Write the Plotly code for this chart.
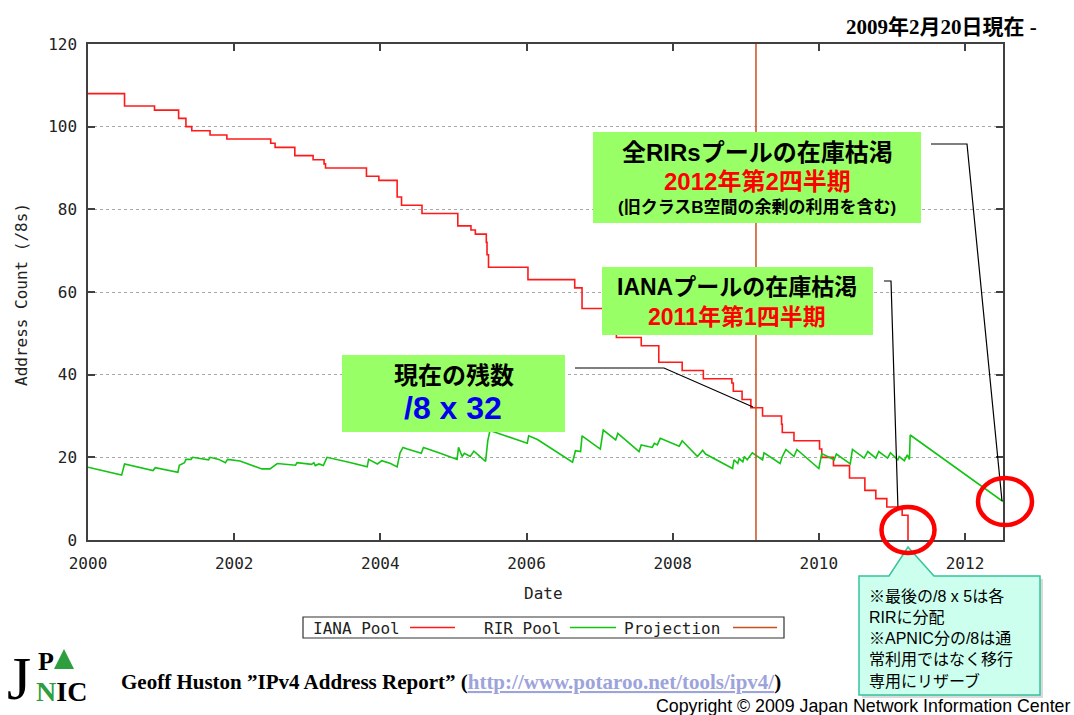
import plotly.graph_objects as go

# ---------------- data ----------------
iana_dates = [2000.00, 2000.50, 2000.91, 2001.24, 2001.34, 2001.42, 2001.67, 2001.90, 2002.50, 2002.56,
              2002.83, 2003.08, 2003.23, 2003.25, 2003.81, 2003.98, 2004.23, 2004.29, 2004.57, 2005.06,
              2005.24, 2005.30, 2005.45, 2005.46, 2005.48, 2006.02, 2006.66, 2006.76, 2007.10, 2007.23,
              2007.57, 2007.81, 2008.13, 2008.42, 2008.81, 2008.83, 2008.95, 2009.07, 2009.23, 2009.49,
              2009.50, 2009.66, 2010.01, 2010.04, 2010.20, 2010.42, 2010.63, 2010.78, 2010.93, 2011.14,
              2011.22]
iana_values = [108, 105, 104, 102, 100, 99, 98, 97, 96, 95,
               93, 92, 91, 90, 88, 87, 83, 81, 79, 76,
               75, 74, 72, 69, 66, 63, 61, 56, 52, 49,
               47, 43, 41, 39, 38, 36, 34, 32, 30, 28,
               26, 24, 22, 20, 18, 15, 12, 10, 8, 6,
               0]

rir_dates = [2000.00, 2000.46, 2000.50, 2000.89, 2000.92, 2001.23, 2001.25, 2001.32, 2001.34, 2001.41,
             2001.43, 2001.65, 2001.67, 2001.79, 2001.88, 2001.91, 2002.08, 2002.38, 2002.49, 2002.59,
             2002.84, 2002.86, 2003.06, 2003.09, 2003.11, 2003.16, 2003.22, 2003.27, 2003.57, 2003.82,
             2003.84, 2003.96, 2004.02, 2004.14, 2004.23, 2004.27, 2004.31, 2004.37, 2004.56, 2004.59,
             2004.82, 2005.05, 2005.07, 2005.12, 2005.15, 2005.23, 2005.28, 2005.44, 2005.47, 2005.50,
             2006.01, 2006.03, 2006.15, 2006.63, 2006.67, 2006.74, 2006.76, 2007.01, 2007.05, 2007.22,
             2007.25, 2007.54, 2007.57, 2007.72, 2007.75, 2007.79, 2007.83, 2008.09, 2008.13, 2008.27,
             2008.34, 2008.41, 2008.45, 2008.82, 2008.84, 2008.89, 2008.91, 2008.96, 2008.98, 2009.02,
             2009.09, 2009.23, 2009.25, 2009.47, 2009.50, 2009.55, 2009.66, 2009.70, 2010.00, 2010.04,
             2010.21, 2010.24, 2010.43, 2010.46, 2010.62, 2010.67, 2010.78, 2010.82, 2010.94, 2010.98,
             2011.08, 2011.10, 2011.17, 2011.21, 2011.24, 2011.25, 2012.52]
rir_values = [17.6, 15.7, 18.4, 16.8, 17.5, 16.4, 18.1, 18.7, 19.5, 19.5,
              20.0, 19.4, 20.0, 19.5, 18.7, 19.5, 19.1, 17.2, 17.2, 18.5,
              18.1, 18.7, 18.3, 18.7, 18.0, 18.4, 18.0, 20.0, 18.8, 17.7,
              19.5, 18.4, 19.2, 18.5, 17.7, 21.1, 22.4, 22.0, 21.0, 22.4,
              21.0, 19.5, 22.4, 20.2, 21.0, 20.2, 21.5, 19.0, 24.0, 26.5,
              23.4, 25.2, 24.3, 18.8, 21.6, 21.4, 25.2, 22.0, 26.6, 24.2,
              25.8, 21.4, 23.0, 22.4, 23.4, 23.0, 24.6, 22.7, 24.0, 21.4,
              20.2, 21.7, 20.8, 17.3, 19.4, 18.5, 19.7, 18.9, 20.2, 19.4,
              21.1, 19.4, 21.1, 18.5, 20.2, 21.9, 20.2, 21.9, 17.3, 20.9,
              19.4, 20.8, 18.4, 21.9, 19.8, 21.4, 19.8, 21.4, 19.8, 21.1,
              19.4, 20.2, 19.2, 20.6, 19.5, 25.4, 9.3]

projection_dates = [2009.14, 2009.14]
projection_values = [0, 120]

x_ticks = [2000, 2002, 2004, 2006, 2008, 2010, 2012]
y_ticks = [0, 20, 40, 60, 80, 100, 120]

series_names = ["IANA Pool", "RIR Pool", "Projection"]
series_colors = ["#ff1a1a", "#14c414", "#c8501e"]

# ---------------- layout helpers (pixel -> paper) ----------------
WIDTH, HEIGHT = 1074, 715
L, T, W, H = 88, 44, 915, 496


def px(x):
    return (x - L) / W


def py(y):
    return (T + H - y) / H


MONO = "DejaVu Sans Mono"
JP = "Liberation Sans, Noto Sans CJK JP"

fig = go.Figure()
fig.add_trace(go.Scatter(x=iana_dates, y=iana_values, mode="lines", line_shape="hv",
                         name=series_names[0], line=dict(color=series_colors[0], width=1.6)))
fig.add_trace(go.Scatter(x=rir_dates, y=rir_values, mode="lines",
                         name=series_names[1], line=dict(color=series_colors[1], width=1.6)))
fig.add_trace(go.Scatter(x=projection_dates, y=projection_values, mode="lines",
                         name=series_names[2], line=dict(color=series_colors[2], width=1.5)))

shapes = []
annotations = []


def rect(x0, y0, x1, y1, fill, line_color=None, lw=0):
    shapes.append(dict(type="rect", xref="paper", yref="paper", x0=px(x0), x1=px(x1),
                       y0=py(y1), y1=py(y0), fillcolor=fill,
                       line=dict(color=line_color or fill, width=lw), layer="above"))


def polyline(pts, color="black", width=1.2):
    d = "M " + " L ".join(f"{px(a):.5f},{py(b):.5f}" for a, b in pts)
    shapes.append(dict(type="path", xref="paper", yref="paper", path=d,
                       line=dict(color=color, width=width), layer="above"))


def text(x, y, s, size, color="black", family=JP, xanchor="center", yanchor="middle", angle=0,
         align="center"):
    annotations.append(dict(x=px(x), y=py(y), xref="paper", yref="paper", text=s, showarrow=False,
                            xanchor=xanchor, yanchor=yanchor, textangle=angle, align=align,
                            borderpad=0,
                            font=dict(size=size, color=color, family=family)))


# green boxes
GREEN = "#99ff66"
rect(593, 132, 921, 223, GREEN)
rect(602, 267, 873, 335, GREEN)
rect(342, 355, 565, 432, GREEN)

text(757, 152, "<b>全RIRsプールの在庫枯渇</b>", 24)
text(757, 181, "<b>2012年第2四半期</b>", 24, color="#ff0000")
text(757, 207, "<b>(旧クラスB空間の余剰の利用を含む)</b>", 17)

text(737, 287, "<b>IANAプールの在庫枯渇</b>", 23)
text(737, 317, "<b>2011年第1四半期</b>", 23, color="#ff0000")

text(454, 375, "<b>現在の残数</b>", 24)
text(453, 408, "<b>/8 x 32</b>", 32, color="#0000ee", family="Liberation Sans")

# leader lines
polyline([(575, 368), (664, 368), (753, 407)])
polyline([(884, 281), (891, 281), (898, 510)])
polyline([(931, 144), (967, 144), (1002, 501)])

# callout box with pointer
callout = [(859, 576), (889, 576), (908, 547), (934, 576), (1040, 576), (1040, 695), (859, 695)]
shadow = [(a + 3, b + 3) for a, b in callout]
shapes.append(dict(type="path", xref="paper", yref="paper",
                   path="M " + " L ".join(f"{px(a):.5f},{py(b):.5f}" for a, b in shadow) + " Z",
                   fillcolor="rgba(150,150,150,0.35)", line=dict(width=0), layer="above"))
shapes.append(dict(type="path", xref="paper", yref="paper",
                   path="M " + " L ".join(f"{px(a):.5f},{py(b):.5f}" for a, b in callout) + " Z",
                   fillcolor="#ccffee", line=dict(color="#33c49c", width=1.5), layer="above"))
callout_lines = ["※最後の/8 x 5は各", "RIRに分配", "※APNIC分の/8は通", "常利用ではなく移行", "専用にリザーブ"]
for i, s in enumerate(callout_lines):
    text(868, 596 + i * 21.3, s, 16, family="Liberation Sans, Noto Sans CJK JP", xanchor="left",
         align="left")

# red circles
for cx, cy, rx, ry in [(908, 530, 26.5, 23), (1005, 501.5, 27, 23.5)]:
    shapes.append(dict(type="circle", xref="paper", yref="paper",
                       x0=px(cx - rx), x1=px(cx + rx), y0=py(cy + ry), y1=py(cy - ry),
                       line=dict(color="#ff0000", width=4.5), layer="above"))

# axis titles
text(543, 593, "Date", 16, color="#222222", family=MONO)
text(21, 295, "Address Count (/8s)", 16, color="#222222", family=MONO, angle=-90)

# manual gnuplot-style legend
rect(303, 617, 784, 638, "rgba(255,255,255,0)", line_color="#333333", lw=1.2)
legend_items = [(312, 410, 455), (483, 570, 616), (623, 733, 777)]
for (tx, l0, l1), name, col in zip(legend_items, series_names, series_colors):
    text(tx, 628, name, 16, color="#222222", family=MONO, xanchor="left")
    polyline([(l0, 627.5), (l1, 627.5)], color=col, width=1.6)

# header / footer texts
text(1038, 27, "<b>2009年2月20日現在 -</b>", 21, family="Liberation Serif, Noto Sans CJK JP",
     xanchor="right")
text(120, 682, "<b>Geoff Huston ”IPv4 Address Report” (<span style='color:#9da3db'><u>"
               "http://www.potaroo.net/tools/ipv4/</u></span>)</b>", 21,
     family="Liberation Serif", xanchor="left")
text(1071, 706, "Copyright © 2009 Japan Network Information Center", 17.8,
     family="Liberation Sans", xanchor="right")

# JPNIC logo (approximation)
text(19, 678, "J", 62, family="Liberation Serif")
text(46, 661, "<b>P</b>", 26, family="Liberation Serif")
shapes.append(dict(type="path", xref="paper", yref="paper",
                   path=f"M {px(54):.5f},{py(669):.5f} L {px(64):.5f},{py(649):.5f} "
                        f"L {px(74):.5f},{py(669):.5f} Z",
                   fillcolor="#2e9e3e", line=dict(width=0), layer="above"))
text(61, 691, "<b><span style='color:#2e9e3e'>N</span>IC</b>", 28, family="Liberation Serif")

axis_common = dict(ticks="inside", ticklen=7, tickwidth=1.5, tickcolor="#404040",
                   showline=True, linecolor="#404040", linewidth=1.5, mirror="ticks",
                   zeroline=False, tickfont=dict(family=MONO, size=16, color="#222222"))

fig.update_layout(
    width=WIDTH, height=HEIGHT, autosize=False,
    margin=dict(l=L, r=WIDTH - L - W, t=T, b=HEIGHT - T - H, pad=0),
    paper_bgcolor="white", plot_bgcolor="white",
    showlegend=False,
    xaxis=dict(range=[2000, 2012.52], tickvals=x_ticks, ticktext=[str(v) for v in x_ticks],
               showgrid=False, ticklabelstandoff=8, **axis_common),
    yaxis=dict(range=[0, 120], tickvals=y_ticks, showgrid=True, gridcolor="#a8a8a8",
               griddash="dot", gridwidth=1.3, ticklabelstandoff=6, **axis_common),
    shapes=shapes, annotations=annotations,
)

fig.write_html("out.html", config={"displayModeBar": False},
               post_script="document.body.style.margin='0';document.body.style.overflow='hidden';")
